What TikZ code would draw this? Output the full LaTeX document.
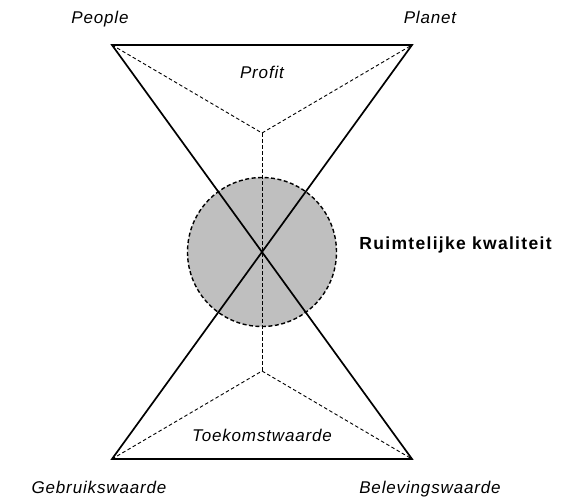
\documentclass[tikz,border=0pt]{standalone}
\usepackage{fontspec}
\setmainfont{Liberation Sans}
\newfontfamily\itfam{Liberation Sans Italic}[LetterSpace=5]
\newfontfamily\bffam{Liberation Sans Bold}[LetterSpace=7.5]
\begin{document}
\begin{tikzpicture}[x=1pt,y=-1pt,
  solidline/.style={line width=1.7pt, line join=miter},
  thinDash/.style={line width=0.9pt, dash pattern=on 3.5pt off 2.5pt},
  circDash/.style={line width=1.4pt, dash pattern=on 4pt off 2.5pt},
  lbl/.style={font=\fontsize{17}{20}\itfam, anchor=base, inner sep=0pt},
  boldlbl/.style={font=\fontsize{17.5}{20}\bffam, anchor=base, inner sep=0pt}]
\useasboundingbox (0,0) rectangle (572,499);
\coordinate (TL) at (112,45);
\coordinate (TR) at (412,45);
\coordinate (BL) at (112,459);
\coordinate (BR) at (412,459);
\coordinate (C) at (262,252);
\coordinate (IT) at (262,133);
\coordinate (IB) at (262,371);
\node[circle, minimum size=149pt, inner sep=0pt, fill={rgb,255:red,191;green,191;blue,191}, draw, circDash] (circ) at (C) {};
\draw[thinDash] (TL) -- (IT) -- (TR);
\draw[thinDash] (BL) -- (IB) -- (BR);
\draw[thinDash] (IT) -- (IB);
\draw[solidline] (TL) -- (TR) -- (BL) -- (BR) -- cycle;
\node[lbl] (people) at (100,23) {People};
\node[lbl] (planet) at (430,23) {Planet};
\node[lbl] (profit) at (262,78) {Profit};
\node[lbl] (toekomst) at (262,441) {Toekomstwaarde};
\node[lbl] (gebruik) at (99,493) {Gebruikswaarde};
\node[lbl] (beleving) at (430,493) {Belevingswaarde};
\node[boldlbl] (rk) at (455.5,249) {Ruimtelijke kwaliteit};
\end{tikzpicture}
\end{document}
